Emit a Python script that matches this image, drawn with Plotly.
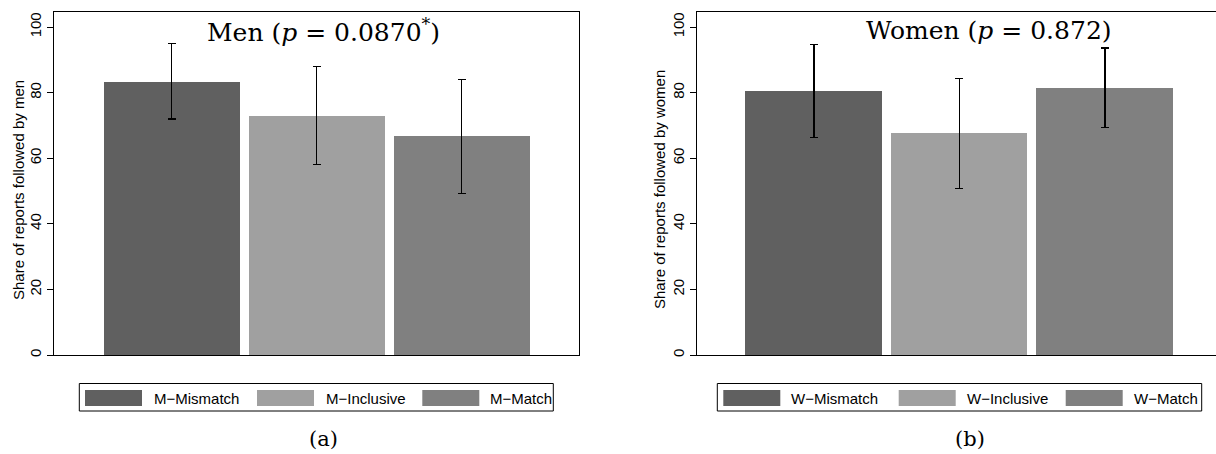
import plotly.graph_objects as go

# ---- data -------------------------------------------------------------
men_groups = ["M\u2212Mismatch", "M\u2212Inclusive", "M\u2212Match"]
men_share = [83.4, 72.9, 66.8]
men_ci_low = [72.0, 58.0, 49.3]
men_ci_high = [95.0, 88.0, 83.9]
men_title = "Men (<i>p</i> = 0.0870<sup>*</sup>)"

women_groups = ["W\u2212Mismatch", "W\u2212Inclusive", "W\u2212Match"]
women_share = [80.6, 67.7, 81.5]
women_ci_low = [66.3, 50.7, 69.5]
women_ci_high = [94.6, 84.4, 93.6]
women_title = "Women (<i>p</i> = 0.872)"

y_ticks = [0, 20, 40, 60, 80, 100]
panel_labels = ["(a)", "(b)"]

bar_colors = ["#606060", "#a0a0a0", "#808080"]

# ---- canvas helpers (pixel -> paper) -----------------------------------
W, H = 1216, 454


def px(x):
    return x / W


def py(y):
    return 1 - y / H


SANS = "Liberation Sans, Arial, sans-serif"
SERIF = "DejaVu Serif, serif"

fig = go.Figure()


def add_panel(groups, share, lo, hi, xa, ya):
    fig.add_trace(go.Bar(
        x=list(range(len(groups))),
        y=share,
        width=0.938,
        marker=dict(color=bar_colors, line=dict(width=0)),
        error_y=dict(
            type="data", symmetric=False,
            array=[h - s for h, s in zip(hi, share)],
            arrayminus=[s - l for s, l in zip(share, lo)],
            color="black", thickness=1.2, width=4,
        ),
        xaxis=xa, yaxis=ya, showlegend=False, hoverinfo="skip",
    ))


add_panel(men_groups, men_share, men_ci_low, men_ci_high, "x", "y")
add_panel(women_groups, women_share, women_ci_low, women_ci_high, "x2", "y2")

xcommon = dict(showline=True, linecolor="black", linewidth=1.2, mirror=True,
               showticklabels=False, ticks="", showgrid=False, zeroline=False)
ycommon = dict(range=[0, 104.6], tickvals=y_ticks, ticks="outside", ticklen=6,
               tickwidth=1, tickcolor="black", tickangle=-90,
               tickfont=dict(family=SANS, size=15, color="black"),
               showline=True, linecolor="black", linewidth=1.2,
               showgrid=False, zeroline=False)

ydom = [py(355), py(12)]
fig.update_layout(
    template="none",
    width=W, height=H,
    margin=dict(l=0, r=0, t=0, b=0),
    paper_bgcolor="white", plot_bgcolor="white",
    bargap=0,
    xaxis=dict(domain=[px(54), px(579)], range=[-0.8128, 2.808], anchor="y", **xcommon),
    yaxis=dict(domain=ydom, anchor="x", mirror=True, **ycommon),
    xaxis2=dict(domain=[px(697.3), 1.0], range=[-0.802, 2.763], anchor="y2", **xcommon),
    yaxis2=dict(domain=ydom, anchor="x2", mirror=False, **ycommon),
)

annotations = []
shapes = []

# panel titles inside the plotting area
annotations.append(dict(text=men_title, x=px(323), y=py(31), xref="paper", yref="paper",
                        xanchor="center", yanchor="middle", showarrow=False,
                        font=dict(family=SERIF, size=25, color="black")))
annotations.append(dict(text=women_title, x=px(989), y=py(31), xref="paper", yref="paper",
                        xanchor="center", yanchor="middle", showarrow=False,
                        font=dict(family=SERIF, size=25, color="black")))

# y-axis titles
for txt, xc in [("Share of reports followed by men", 19),
                ("Share of reports followed by women", 660)]:
    annotations.append(dict(text=txt, x=px(xc), y=py(190), xref="paper", yref="paper",
                            xanchor="center", yanchor="middle", textangle=-90,
                            showarrow=False, font=dict(family=SANS, size=15, color="black")))

# hand-laid legends below each panel
legend_specs = [
    (men_groups, (79.3, 553.3), [85, 257, 422.3], [151.7, 324.3, 487.7]),
    (women_groups, (717.3, 1201.7), [723.3, 898.7, 1065.7], [789.3, 965, 1132.3]),
]
for groups, (bx0, bx1), sw_x, tx_x in legend_specs:
    shapes.append(dict(type="rect", xref="paper", yref="paper",
                       x0=px(bx0), x1=px(bx1), y0=py(411), y1=py(383.5),
                       line=dict(color="black", width=1), fillcolor="white"))
    for g, c, sx, tx in zip(groups, bar_colors, sw_x, tx_x):
        shapes.append(dict(type="rect", xref="paper", yref="paper",
                           x0=px(sx), x1=px(sx + 57), y0=py(406), y1=py(390),
                           line=dict(width=0), fillcolor=c))
        annotations.append(dict(text=g, x=px(tx), y=py(398), xref="paper", yref="paper",
                                xanchor="left", yanchor="middle", showarrow=False,
                                font=dict(family=SANS, size=15, color="black")))

# sub-figure labels
for lab, xc in zip(panel_labels, [323, 970]):
    annotations.append(dict(text=lab, x=px(xc), y=py(439), xref="paper", yref="paper",
                            xanchor="center", yanchor="middle", showarrow=False,
                            font=dict(family=SERIF, size=21, color="black")))

fig.update_layout(annotations=annotations, shapes=shapes)
fig.write_html("out.html")
